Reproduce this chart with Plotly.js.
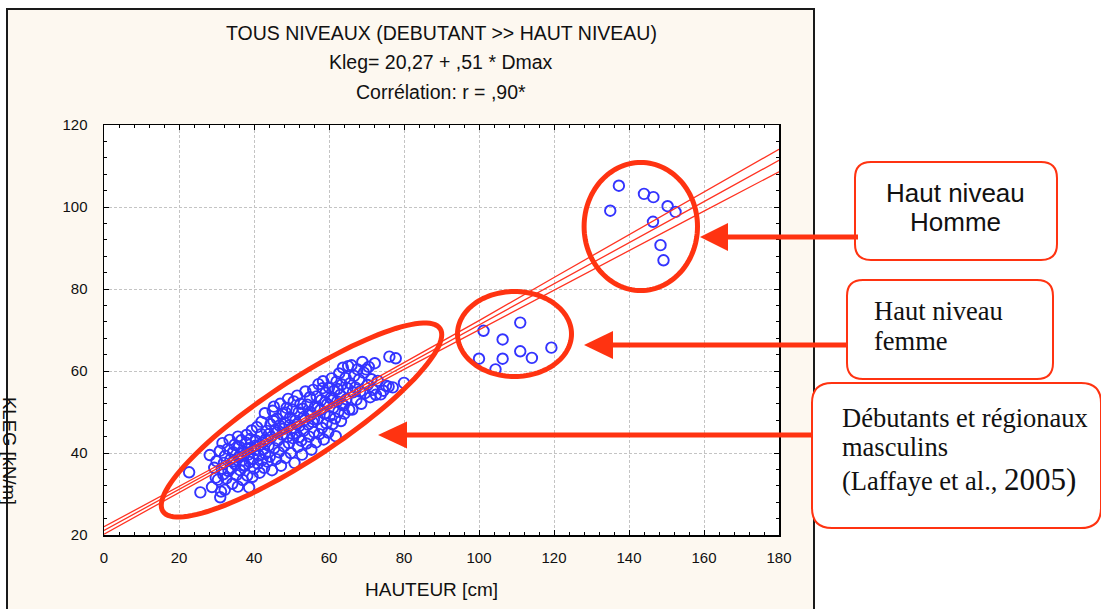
<!DOCTYPE html>
<html><head><meta charset="utf-8">
<script src="https://cdn.plot.ly/plotly-3.0.1.min.js"></script>
<style>html,body{margin:0;padding:0;background:#fff;} #chart{width:1101px;height:609px;}</style>
</head><body><div id="chart"></div>
<script>
// ---------- data ----------
const mainX = [
 22.7, 25.7, 28.2, 28.8, 29.4, 29.8, 30.0, 30.4,
 30.9, 31.0, 31.2, 31.4, 31.6, 31.8, 32.0, 32.2, 32.3, 32.6,
 33.0, 33.2, 33.5, 33.7, 34.0, 34.2, 34.4, 34.8, 35.0, 35.3, 35.7, 35.7, 35.9, 36.0,
 36.3, 36.6, 36.8, 37.0, 37.3, 37.6, 37.9, 38.0, 38.2, 38.5, 38.7, 38.9, 39.2, 39.4,
 39.6, 39.8, 40.0, 40.2, 40.5, 40.8, 41.0, 41.3, 41.5, 41.7, 41.9,
 42.0, 42.2, 42.5, 42.7, 42.9, 43.1, 43.4, 43.6, 43.9, 44.2, 44.4, 44.6, 44.8,
 45.0, 45.3, 45.4, 45.6, 45.9, 46.1, 46.3, 46.6, 46.8, 47.0, 47.2, 47.5, 47.7,
 48.0, 48.2, 48.4, 48.7, 48.9, 49.1, 49.3, 49.6, 49.8, 50.0, 50.2, 50.4, 50.6, 50.8,
 51.0, 51.2, 51.5, 51.7, 51.9, 52.1, 52.4, 52.6, 52.8, 53.0, 53.2, 53.5, 53.7,
 54.0, 54.2, 54.4, 54.7, 54.9, 55.1, 55.3, 55.6, 55.8, 56.0, 56.2, 56.5, 56.7,
 57.0, 57.2, 57.4, 57.7, 57.9, 58.1, 58.4, 58.6, 58.8, 59.1, 59.3, 59.5, 59.8,
 60.0, 60.2, 60.4, 60.7, 60.9, 61.1, 61.4, 61.6, 61.8, 62.0, 62.2, 62.5, 62.7,
 63.0, 63.2, 63.4, 63.7, 63.9, 64.1, 64.4, 64.6, 64.9, 65.1, 65.4, 65.6,
 66.0, 66.2, 66.4, 66.7, 67.0, 67.3, 67.6, 68.0, 68.3, 68.6, 68.9,
 69.3, 69.6, 69.9, 70.3, 70.6, 71.0, 71.3, 71.7, 72.2, 72.5,
 73.0, 73.8, 74.5, 75.2, 75.9, 76.1, 77.0, 77.8, 80.0,
 34.5, 36.5, 38.3, 40.4, 42.4, 44.0, 46.0, 47.8, 49.5, 51.4, 53.3, 55.0, 57.0,
 59.0, 61.0, 63.5, 37.1, 39.0, 43.0, 45.2, 48.5, 52.0, 56.0, 58.3, 62.3
];
const mainY = [
 35.3, 30.4, 39.5, 31.7, 36.4, 34.0, 38.0, 33.5,
 40.5, 29.2, 30.6, 36.2, 42.4, 34.8, 37.6, 31.0, 39.3, 33.8,
 41.0, 35.6, 43.2, 38.4, 36.3, 32.5, 40.2, 42.0, 37.2, 34.6, 44.0, 31.8, 39.0, 41.6,
 35.8, 43.1, 38.2, 33.4, 40.4, 36.9, 42.5, 44.4, 34.5, 39.6, 31.6, 37.8, 41.3, 45.5,
 34.2, 38.6, 36.2, 40.7, 43.0, 46.3, 37.4, 39.4, 35.2, 42.0, 44.6,
 47.6, 38.3, 40.9, 36.4, 49.7, 43.3, 45.4, 37.9, 41.8, 39.1, 47.0, 43.9, 35.8,
 50.3, 51.3, 41.2, 45.6, 38.5, 48.4, 43.0, 40.2, 46.7, 52.0, 36.9, 44.5, 49.5,
 41.6, 47.3, 38.8, 51.0, 44.0, 53.2, 42.4, 48.6, 40.0, 46.0, 50.6, 43.6, 52.6, 37.6,
 47.9, 44.8, 54.0, 41.5, 49.9, 46.6, 52.0, 43.0, 39.6, 50.8, 45.4, 48.0, 55.0,
 42.3, 51.8, 46.9, 44.0, 53.6, 49.2, 40.8, 47.6, 55.4, 45.1, 51.1, 42.6, 53.8,
 48.3, 56.8, 44.6, 50.5, 52.9, 46.1, 57.5, 43.3, 49.6, 54.7, 47.2, 51.9, 45.0,
 56.0, 49.0, 53.4, 58.2, 47.0, 51.0, 55.2, 48.4, 44.1, 57.4, 52.6, 50.1, 59.4,
 54.2, 47.8, 56.7, 60.8, 51.6, 49.6, 58.3, 53.1, 55.8, 61.2, 50.6, 57.0,
 61.4, 50.6, 54.8, 58.8, 56.0, 53.0, 60.4, 57.9, 55.0, 52.0, 62.2,
 59.6, 54.6, 60.4, 56.6, 61.0, 53.6, 58.0, 55.4, 61.9, 54.2,
 57.6, 54.3, 55.2, 56.4, 56.2, 63.5, 56.0, 63.1, 57.1,
 38.0, 39.8, 41.0, 41.8, 42.6, 44.6, 45.0, 45.9, 46.8, 47.0, 48.8, 50.0, 51.0,
 52.4, 53.2, 52.0, 37.0, 43.4, 39.8, 47.8, 49.8, 43.8, 48.2, 55.8, 55.6
];
const femmeX = [101.2, 111.0, 106.3, 100.0, 106.3, 104.4, 111.0, 114.1, 119.3];
const femmeY = [69.8, 71.8, 67.7, 63.0, 63.0, 60.4, 64.8, 63.2, 65.7];
const hommeX = [137.3, 135.0, 144.0, 146.5, 150.3, 152.4, 146.4, 148.4, 149.2];
const hommeY = [105.2, 99.1, 103.2, 102.4, 100.2, 98.8, 96.4, 90.7, 87.0];
const fitX   = [0, 20, 40, 60, 80, 100, 120, 140, 160, 180];
const fitY   = [21.1, 31.1, 41.1, 51.2, 61.2, 71.2, 81.3, 91.3, 101.3, 111.4];
const upperY = [22.0, 31.8, 41.7, 51.8, 62.0, 72.3, 82.8, 93.2, 103.6, 114.1];
const lowerY = [20.2, 30.4, 40.5, 50.6, 60.4, 70.1, 79.8, 89.4, 99.0, 108.6];
const xTicks = [0, 20, 40, 60, 80, 100, 120, 140, 160, 180];
const yTicks = [20, 40, 60, 80, 100, 120];
const titleLines = ['TOUS NIVEAUX (DEBUTANT &gt;&gt; HAUT NIVEAU)', 'Kleg= 20,27 + ,51 * Dmax', 'Corrélation: r = ,90*'];
const xTitle = 'HAUTEUR [cm]';
const yTitle = 'KLEG [kN/m]';
const box1Lines = ['Haut niveau', 'Homme'];
const box2Lines = ['Haut niveau', 'femme'];
const box3Lines = ['Débutants et régionaux', 'masculins', '(Laffaye et al., <span style="font-size:31px">2005)</span>'];

// ---------- styling / geometry ----------
const W = 1101, H = 609, ML = 104, MR = 322, MT = 125, MB = 74;
const PW = W - ML - MR, PH = H - MT - MB;
const RED = '#ff3311', BLUE = '#3333ff', INK = '#111111';
const SANS = 'Liberation Sans, Arial, sans-serif';
const SERIF = 'Liberation Serif, Times New Roman, serif';
const px = x => (x - ML) / PW;
const py = y => (H - MB - y) / PH;

function ellipsePath(cx, cy, a, b, deg) {
  const r = deg * Math.PI / 180; let d = '';
  for (let i = 0; i <= 120; i++) {
    const t = i / 120 * 2 * Math.PI;
    const ex = cx + a * Math.cos(t) * Math.cos(r) + b * Math.sin(t) * Math.sin(r);
    const ey = cy - a * Math.cos(t) * Math.sin(r) + b * Math.sin(t) * Math.cos(r);
    d += (i ? 'L' : 'M') + px(ex).toFixed(5) + ',' + py(ey).toFixed(5);
  }
  return d + 'Z';
}
function roundRect(x0, y0, x1, y1, r) {
  const P = (x, y) => px(x).toFixed(5) + ',' + py(y).toFixed(5);
  return 'M' + P(x0 + r, y0) + 'L' + P(x1 - r, y0) + 'Q' + P(x1, y0) + ' ' + P(x1, y0 + r) +
    'L' + P(x1, y1 - r) + 'Q' + P(x1, y1) + ' ' + P(x1 - r, y1) +
    'L' + P(x0 + r, y1) + 'Q' + P(x0, y1) + ' ' + P(x0, y1 - r) +
    'L' + P(x0, y0 + r) + 'Q' + P(x0, y0) + ' ' + P(x0 + r, y0) + 'Z';
}
const paperRect = (x0, y0, x1, y1, fill, layer) => ({type: 'rect', xref: 'paper', yref: 'paper',
  x0: px(x0), x1: px(x1), y0: py(y1), y1: py(y0), fillcolor: fill, line: {width: 0}, layer: layer || 'below'});
const paperLine = (x0, y0, x1, y1, color, w) => ({type: 'line', xref: 'paper', yref: 'paper',
  x0: px(x0), x1: px(x1), y0: py(y0), y1: py(y1), line: {color: color, width: w}, layer: 'above'});
function arrow(xTail, xTip, y, xBase, h) {
  return [paperLine(xTail, y, xBase - 2, y, RED, 5),
    {type: 'path', xref: 'paper', yref: 'paper', layer: 'above', fillcolor: RED, line: {width: 0},
     path: 'M' + px(xTip) + ',' + py(y) + 'L' + px(xBase) + ',' + py(y - h) + 'L' + px(xBase) + ',' + py(y + h) + 'Z'}];
}
const boxShape = (x0, y0, x1, y1, r) => ({type: 'path', xref: 'paper', yref: 'paper', layer: 'above',
  fillcolor: '#ffffff', line: {color: RED, width: 2}, path: roundRect(x0, y0, x1, y1, r)});
const ellShape = (cx, cy, a, b, deg) => ({type: 'path', xref: 'paper', yref: 'paper', layer: 'above',
  line: {color: RED, width: 5}, path: ellipsePath(cx, cy, a, b, deg)});

const shapes = [
  paperRect(0, 0, 7, H, '#ffffff'),
  paperRect(0, 0, W, 9, '#ffffff'),
  paperRect(814, 0, W, H, '#ffffff'),
  paperLine(7, 9, 7, H, '#1a1a1a', 2),
  paperLine(6, 9, 815, 9, '#1a1a1a', 2),
  paperLine(814, 9, 814, H, '#1a1a1a', 2),
  ellShape(301.5, 420, 166, 39, 33.4),
  ellShape(514.5, 334, 57, 42.5, 0),
  ellShape(640.8, 226.5, 56.7, 64, 0),
  boxShape(855, 162, 1057, 260, 16),
  boxShape(847, 280, 1053, 379, 16),
  boxShape(812, 383, 1101, 528, 20),
  ...arrow(858, 700, 237, 728, 14),
  ...arrow(848, 584, 345, 613, 14),
  ...arrow(813, 378, 435, 407, 13.5)
];

const ann = (text, x, y, size, family, opts) => Object.assign({text: text, xref: 'paper', yref: 'paper',
  x: px(x), y: py(y), showarrow: false, xanchor: 'center', yanchor: 'middle',
  font: {size: size, family: family, color: INK}}, opts || {});
const annotations = [
  ann(titleLines[0], 441, 33, 19.5, SANS),
  ann(titleLines[1], 441, 62, 19.5, SANS),
  ann(titleLines[2], 441, 92, 19.5, SANS),
  ann(xTitle, 431, 589, 19, SANS),
  ann(yTitle, 10, 451, 18.5, SANS, {textangle: 90}),
  ann(box1Lines[0], 956, 193, 26, SANS),
  ann(box1Lines[1], 956, 222, 26, SANS),
  ann(box2Lines[0], 872, 311, 26.5, SERIF, {xanchor: 'left'}),
  ann(box2Lines[1], 872, 341, 26.5, SERIF, {xanchor: 'left'}),
  ann(box3Lines[0], 840, 418, 26.5, SERIF, {xanchor: 'left'}),
  ann(box3Lines[1], 840, 447, 26.5, SERIF, {xanchor: 'left'}),
  ann(box3Lines[2], 840, 479, 26.5, SERIF, {xanchor: 'left'})
];

const markerStyle = {symbol: 'circle-open', size: 10.5, color: BLUE, line: {color: BLUE, width: 1.9}};
const lineStyle = {color: '#ff3322', width: 1.3};
const traces = [
  {x: mainX, y: mainY, type: 'scatter', mode: 'markers', marker: markerStyle, cliponaxis: false},
  {x: femmeX, y: femmeY, type: 'scatter', mode: 'markers', marker: markerStyle},
  {x: hommeX, y: hommeY, type: 'scatter', mode: 'markers', marker: markerStyle},
  {x: fitX, y: upperY, type: 'scatter', mode: 'lines', line: lineStyle},
  {x: fitX, y: fitY, type: 'scatter', mode: 'lines', line: lineStyle},
  {x: fitX, y: lowerY, type: 'scatter', mode: 'lines', line: lineStyle}
];

const axisCommon = {
  showline: true, linecolor: '#000', linewidth: 1.5, mirror: 'allticks',
  ticks: 'inside', ticklen: 5, tickwidth: 1, tickcolor: '#000',
  showgrid: true, gridcolor: '#c4c4c4', gridwidth: 1, griddash: '3px,2px',
  zeroline: false, tickfont: {family: SANS, size: 15, color: INK}, fixedrange: true
};
const layout = {
  width: W, height: H, margin: {l: ML, r: MR, t: MT, b: MB, pad: 0},
  paper_bgcolor: '#fdf8f0', plot_bgcolor: '#ffffff', showlegend: false,
  xaxis: Object.assign({}, axisCommon, {range: [0, 180], tickmode: 'array', tickvals: xTicks,
    ticktext: xTicks.map(String), ticklabelstandoff: 8,
    minor: {tickmode: 'linear', tick0: 0, dtick: 4, ticks: 'inside', ticklen: 3, tickcolor: '#000', tickwidth: 1, showgrid: false}}),
  yaxis: Object.assign({}, axisCommon, {range: [20, 120], tickmode: 'array', tickvals: yTicks,
    ticktext: yTicks.map(String), ticklabelstandoff: 12,
    minor: {tickmode: 'linear', tick0: 0, dtick: 4, ticks: 'inside', ticklen: 3, tickcolor: '#000', tickwidth: 1, showgrid: false}}),
  shapes: shapes, annotations: annotations
};
Plotly.newPlot('chart', traces, layout, {displayModeBar: false, staticPlot: true});
</script></body></html>
